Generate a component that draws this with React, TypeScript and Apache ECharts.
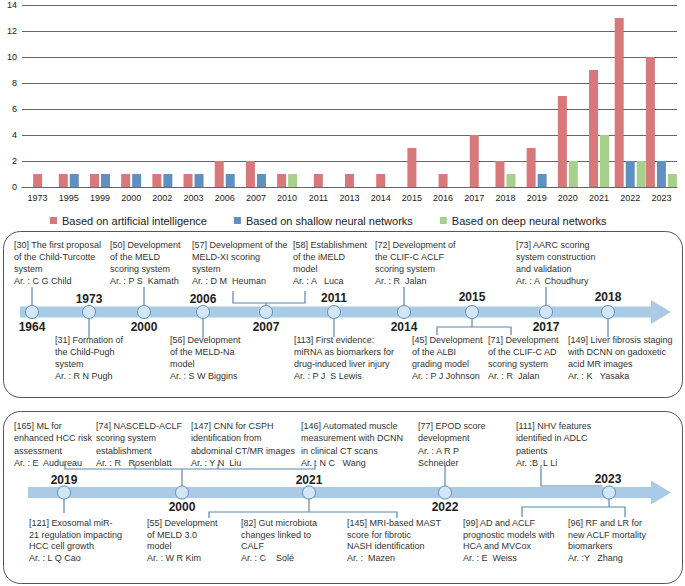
import React, { useEffect, useRef } from "react";
import * as echarts from "echarts";

// ---------- bar chart data ----------
const years = ["1973", "1995", "1999", "2000", "2002", "2003", "2006", "2007", "2010", "2011", "2013", "2014", "2015", "2016", "2017", "2018", "2019", "2020", "2021", "2022", "2023"];
const aiValues: (number | null)[] = [1, 1, 1, 1, 1, 1, 2, 2, 1, 1, 1, 1, 3, 1, 4, 2, 3, 7, 9, 13, 10];
const shallowValues: (number | null)[] = [null, 1, 1, 1, 1, 1, 1, 1, null, null, null, null, null, null, null, null, 1, null, null, 2, 2];
const deepValues: (number | null)[] = [null, null, null, null, null, null, null, null, 1, null, null, null, null, null, null, 1, null, 2, 4, 2, 1];
const seriesNames = ["Based on artificial intelligence", "Based on shallow neural networks", "Based on deep neural networks"];
const yTicks = [0, 14, 2]; // min, max, interval

// ---------- timeline data ----------
const panel1Years = ["1964", "1973", "2000", "2006", "2007", "2011", "2014", "2015", "2017", "2018"];
const panel1Above = [
  ["[30] The first proposal", "of the Child-Turcotte", "system", "Ar. : C G Child"],
  ["[50] Development", "of the MELD", "scoring system", "Ar. : P S  Kamath"],
  ["[57] Development of the", "MELD-XI scoring", "system", "Ar. : D M  Heuman"],
  ["[58] Establishment", "of the iMELD", "model", "Ar. : A   Luca"],
  ["[72] Development of", "the CLIF-C ACLF", "scoring system", "Ar. : R  Jalan"],
  ["[73] AARC scoring", "system construction", "and validation", "Ar. : A  Choudhury"],
];
const panel1Below = [
  ["[31] Formation of", "the Child-Pugh", "system", "Ar. : R N Pugh"],
  ["[56] Development", "of the MELD-Na", "model", "Ar. : S W Biggins"],
  ["[113] First evidence:", "miRNA as biomarkers for", "drug-induced liver injury", "Ar. : P J  S Lewis"],
  ["[45] Development", "of the ALBI", "grading model", "Ar. : P J Johnson"],
  ["[71] Development", "of the CLIF-C AD", "scoring system", "Ar. : R  Jalan"],
  ["[149] Liver fibrosis staging", "with DCNN on gadoxetic", "acid MR images", "Ar. : K   Yasaka"],
];
const panel2Years = ["2019", "2000", "2021", "2022", "2023"];
const panel2Above = [
  ["[165] ML for", "enhanced HCC risk", "assessment", "Ar. : E  Audureau"],
  ["[74] NASCELD-ACLF", "scoring system", "establishment", "Ar. : R   Rosenblatt"],
  ["[147] CNN for CSPH", "identification from", "abdominal CT/MR images", "Ar. : Y N  Liu"],
  ["[146] Automated muscle", "measurement with DCNN", "in clinical CT scans", "Ar. : N C   Wang"],
  ["[77] EPOD score", "development", "Ar. : A R P", "Schneider"],
  ["[111] NHV features", "identified in ADLC", "patients", "Ar. :B  L Li"],
];
const panel2Below = [
  ["[121] Exosomal miR-", "21 regulation impacting", "HCC cell growth", "Ar. : L Q Cao"],
  ["[55] Development", "of MELD 3.0", "model", "Ar. : W R Kim"],
  ["[82] Gut microbiota", "changes linked to", "CALF", "Ar. : C    Solé"],
  ["[145] MRI-based MAST", "score for fibrotic", "NASH identification", "Ar. :  Mazen"],
  ["[99] AD and ACLF", "prognostic models with", "HCA and MVCox", "Ar. : E  Weiss"],
  ["[96] RF and LR for", "new ACLF mortality", "biomarkers", "Ar. :Y   Zhang"],
];

// ---------- layout (positions only) ----------
const COLORS = ["#d9787a", "#5f90c1", "#a8d08d"];
const FONT = '"Liberation Sans", Arial, Helvetica, sans-serif';
const LINE = "#5b88ad";
const BAND = "#a9cbe6";

const p1 = {
  bandY: 312,
  bandX0: 20,
  circleX: [32, 89, 144, 203, 266, 334, 404, 472, 546, 608],
  yearPos: [[32, 327], [89, 299], [144, 327], [203, 299], [266, 327], [334, 298], [404, 327], [472, 297], [546, 327], [608, 297]],
  aboveX: [14, 110, 192, 293, 375, 516],
  aboveY: 245,
  aboveLH: 12,
  belowX: [55, 170, 294, 412, 488, 568],
  belowY: 340,
  belowLH: 12,
  lines: [
    [[32, 287], [32, 305.5]],
    [[89, 318.5], [89, 338]],
    [[144, 287], [144, 305.5]],
    [[203, 318.5], [203, 338]],
    [[233, 291], [233, 303], [305, 303], [305, 291]],
    [[266, 303], [266, 305.5]],
    [[334, 318.5], [334, 337]],
    [[404, 287], [404, 305.5]],
    [[472, 318.5], [472, 327]],
    [[437, 335], [437, 327], [511, 327], [511, 335]],
    [[546, 287], [546, 305.5]],
    [[608, 318.5], [608, 337]],
  ],
};
const p2 = {
  bandY: 492.5,
  bandX0: 28,
  circleX: [64, 182, 309, 445, 609],
  yearPos: [[64, 480], [182, 507], [309, 480], [445, 507], [608, 479]],
  aboveX: [14, 96, 191, 301, 418, 516],
  aboveY: 426,
  aboveLH: 12.3,
  belowX: [29, 147, 241, 347, 463, 568],
  belowY: 523,
  belowLH: 11.5,
  lines: [
    [[64, 499], [64, 513]],
    [[182, 469], [182, 486]],
    [[65, 464], [65, 469], [315, 469], [315, 460]],
    [[135, 464], [135, 469]],
    [[218, 464], [218, 469]],
    [[309, 499], [309, 512]],
    [[209, 518], [209, 512], [397, 512], [397, 518]],
    [[445, 465], [445, 486]],
    [[541, 465], [541, 486], [602.5, 486]],
    [[609, 499], [609, 507]],
    [[522, 517], [522, 507], [625, 507], [625, 517]],
  ],
};

function textBlock(x: number, yCenter: number, lh: number, lines: string[]) {
  return {
    type: "text",
    x,
    y: yCenter - lh / 2,
    silent: true,
    style: {
      text: lines.join("\n"),
      fontSize: 9,
      fontFamily: FONT,
      fill: "#333",
      lineHeight: lh,
      align: "left",
      verticalAlign: "top",
    },
  };
}

function panelElements(p: any, yearsArr: string[], above: string[][], below: string[][], box: number[]) {
  const els: any[] = [];
  els.push({
    type: "rect",
    silent: true,
    shape: { x: box[0], y: box[1], width: box[2], height: box[3], r: 17 },
    style: { fill: "none", stroke: "#555", lineWidth: 1 },
  });
  els.push({
    type: "rect",
    silent: true,
    shape: { x: p.bandX0, y: p.bandY - 5.5, width: 652 - p.bandX0, height: 11 },
    style: { fill: BAND },
  });
  els.push({
    type: "polygon",
    silent: true,
    shape: { points: [[651, p.bandY - 12], [671, p.bandY], [651, p.bandY + 12]] },
    style: { fill: BAND },
  });
  p.lines.forEach((pts: number[][]) => {
    els.push({
      type: "polyline",
      silent: true,
      shape: { points: pts },
      style: { stroke: LINE, lineWidth: 1.2, fill: null },
    });
  });
  p.circleX.forEach((cx: number) => {
    els.push({
      type: "circle",
      silent: true,
      shape: { cx, cy: p.bandY, r: 6.5 },
      style: { fill: "#d2e6f6", stroke: "#5b8fbf", lineWidth: 1 },
    });
  });
  yearsArr.forEach((yr, i) => {
    els.push({
      type: "text",
      silent: true,
      x: p.yearPos[i][0],
      y: p.yearPos[i][1],
      style: {
        text: yr,
        fontSize: 12,
        fontWeight: "bold",
        fontFamily: FONT,
        fill: "#222",
        align: "center",
        verticalAlign: "middle",
      },
    });
  });
  above.forEach((lines, i) => els.push(textBlock(p.aboveX[i], p.aboveY, p.aboveLH, lines)));
  below.forEach((lines, i) => els.push(textBlock(p.belowX[i], p.belowY, p.belowLH, lines)));
  return els;
}

const allSeries = [aiValues, shallowValues, deepValues];

function makeRender(sIdx: number) {
  return (params: any, api: any) => {
    const cat = api.value(0);
    const val = api.value(1);
    const present = [0, 1, 2].filter((k) => allSeries[k][cat] != null);
    const slot = present.indexOf(sIdx);
    const n = present.length;
    const barW = 9;
    const gap = 2;
    const groupW = n * barW + (n - 1) * gap;
    const base = api.coord([cat, 0]);
    const top = api.coord([cat, val]);
    return {
      type: "rect",
      shape: { x: base[0] - groupW / 2 + slot * (barW + gap), y: top[1], width: barW, height: base[1] - top[1] },
      style: { fill: COLORS[sIdx] },
    };
  };
}

export default function App() {
  const ref = useRef<HTMLDivElement>(null);
  useEffect(() => {
    if (!ref.current) return;
    const chart = echarts.init(ref.current, null, { renderer: "svg" });
    const graphicEls = [
      ...panelElements(p1, panel1Years, panel1Above, panel1Below, [3.5, 231.5, 679, 166]),
      ...panelElements(p2, panel2Years, panel2Above, panel2Below, [3.5, 411.5, 679, 172]),
    ];
    chart.setOption({
      animation: false,
      backgroundColor: "#fff",
      textStyle: { fontFamily: FONT },
      grid: { left: 22, right: 8, top: 5, bottom: 586 - 187, containLabel: false },
      legend: {
        data: seriesNames.map((name) => ({ name, icon: "rect" })),
        left: 45,
        top: 210,
        itemWidth: 7,
        itemHeight: 7,
        itemGap: 27,
        textStyle: { fontSize: 11, color: "#222", fontFamily: FONT },
      },
      xAxis: {
        type: "category",
        data: years,
        axisTick: { show: false },
        axisLine: { show: true, lineStyle: { color: "#666", width: 1 } },
        axisLabel: { fontSize: 9, color: "#222", margin: 6, interval: 0, fontFamily: FONT },
      },
      yAxis: {
        type: "value",
        min: yTicks[0],
        max: yTicks[1],
        interval: yTicks[2],
        axisLine: { show: false },
        axisTick: { show: false },
        splitLine: { lineStyle: { color: "#666", width: 1 } },
        axisLabel: { fontSize: 9, color: "#222", margin: 5, fontFamily: FONT },
      },
      series: allSeries.map((vals, s) => ({
        type: "custom",
        name: seriesNames[s],
        itemStyle: { color: COLORS[s] },
        renderItem: makeRender(s),
        encode: { x: 0, y: 1 },
        data: vals.map((v, i) => (v == null ? null : [i, v])).filter((d) => d != null),
      })),
      graphic: { elements: graphicEls },
    });
    return () => chart.dispose();
  }, []);
  return <div ref={ref} style={{ position: "absolute", left: 0, top: 0, width: 685, height: 586 }} />;
}
